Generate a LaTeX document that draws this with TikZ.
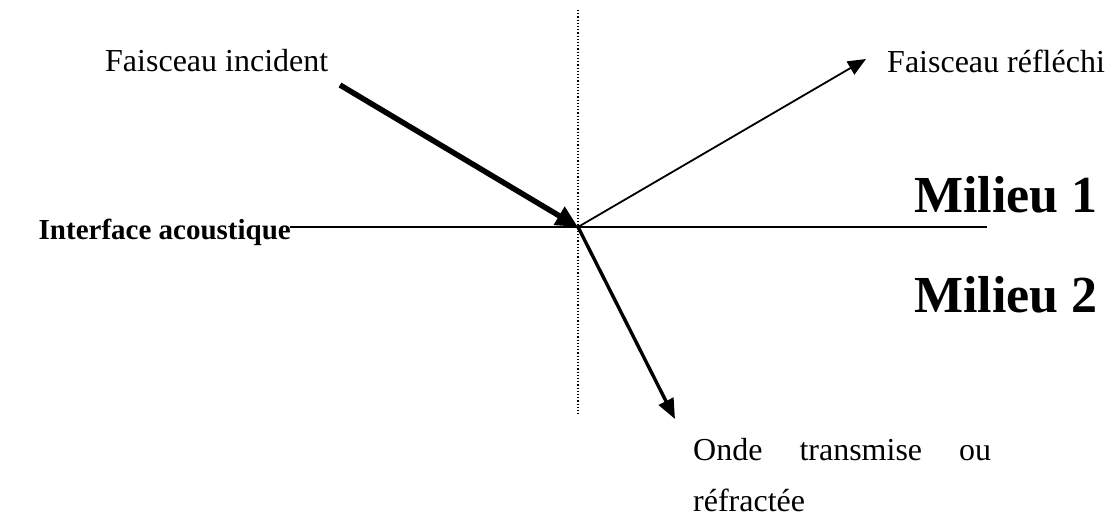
\documentclass[tikz,border=0pt]{standalone}
\usepackage{fontspec}
\setmainfont{Liberation Serif}
\usetikzlibrary{arrows.meta}
\begin{document}
\begin{tikzpicture}[x=1pt,y=-1pt,
  lbl/.style={inner sep=0pt,anchor=west,font=\fontsize{32}{36}\selectfont},
  big/.style={inner sep=0pt,font=\fontsize{52}{60}\selectfont\bfseries},
]
\useasboundingbox (0,0) rectangle (1117,517);
\coordinate (O) at (578,227);
\coordinate (top) at (578,10);
\coordinate (bot) at (578,415);
\coordinate (Lend) at (290,227);
\coordinate (Rend) at (987,227);
\coordinate (inc) at (340,85);
\coordinate (refl) at (866,59);
\coordinate (refr) at (675,419);
\draw[line width=1.2pt,dotted] (top) -- (bot);
\draw[line width=1.8pt] (Lend) -- (Rend);
\draw[line width=5.5pt,-{Triangle[length=22pt,width=20pt]}] (inc) -- (O);
\draw[line width=1.8pt,-{Triangle[length=18pt,width=15pt]}] (O) -- (refl);
\draw[line width=3.4pt,-{Triangle[length=20pt,width=16pt]}] (O) -- (refr);
\node[lbl] (tinc) at (105,61) {Faisceau incident};
\node[lbl] (trefl) at (887,61) {Faisceau réfléchi};
\node[big] (m1) at (1006,195) {Milieu 1};
\node[big] (m2) at (1006,295) {Milieu 2};
\node[inner sep=0pt,anchor=east,font=\fontsize{29}{34}\selectfont\bfseries] (iface) at (291,232) {Interface acoustique};
\node[lbl,text width=298pt] (tref1) at (693,450) {Onde\hfill transmise\hfill ou};
\node[lbl] (tref2) at (693,500) {réfractée};
\end{tikzpicture}
\end{document}
